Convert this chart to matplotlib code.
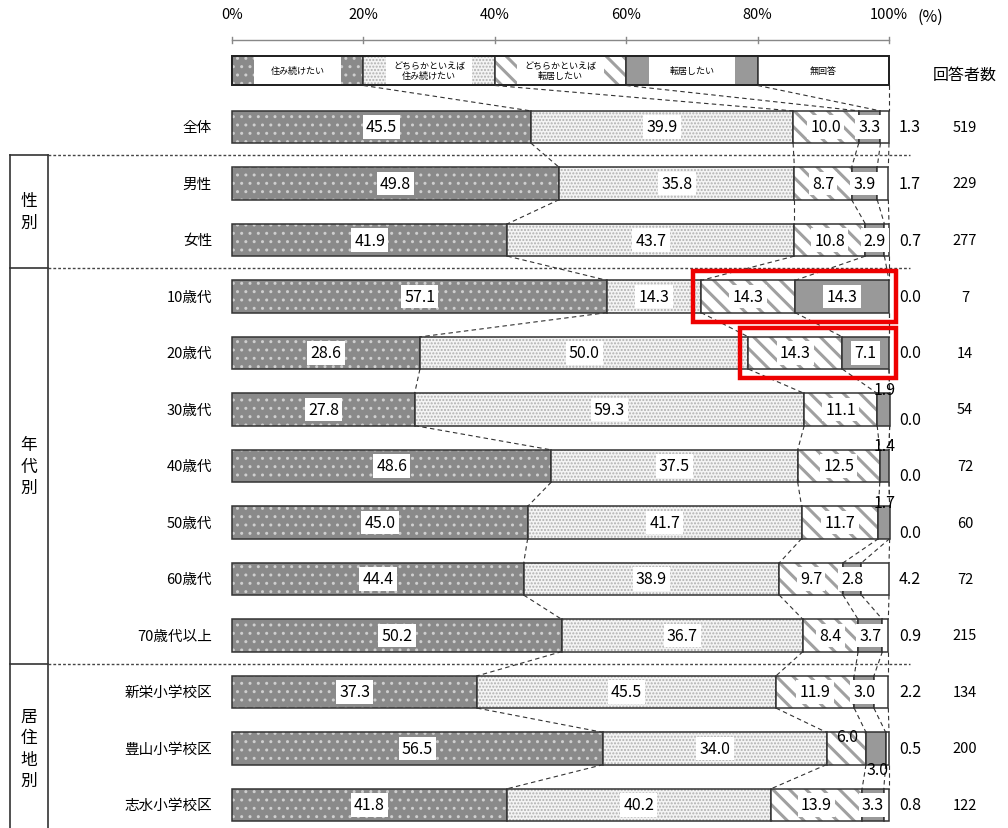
import numpy as np
import matplotlib.pyplot as plt

plt.rcParams['font.family'] = ['Noto Sans CJK JP', 'DejaVu Sans']

# データ
categories = ['全体', '男性', '女性', '10歳代', '20歳代', '30歳代', '40歳代', '50歳代',
              '60歳代', '70歳代以上', '新栄小学校区', '豊山小学校区', '志水小学校区']
stay = [45.5, 49.8, 41.9, 57.1, 28.6, 27.8, 48.6, 45.0, 44.4, 50.2, 37.3, 56.5, 41.8]
rather_stay = [39.9, 35.8, 43.7, 14.3, 50.0, 59.3, 37.5, 41.7, 38.9, 36.7, 45.5, 34.0, 40.2]
rather_move = [10.0, 8.7, 10.8, 14.3, 14.3, 11.1, 12.5, 11.7, 9.7, 8.4, 11.9, 6.0, 13.9]
move = [3.3, 3.9, 2.9, 14.3, 7.1, 1.9, 1.4, 1.7, 2.8, 3.7, 3.0, 3.0, 3.3]
no_answer = [1.3, 1.7, 0.7, 0.0, 0.0, 0.0, 0.0, 0.0, 4.2, 0.9, 2.2, 0.5, 0.8]
respondents = [519, 229, 277, 7, 14, 54, 72, 60, 72, 215, 134, 200, 122]

legend_labels = ['住み続けたい', 'どちらかといえば\n住み続けたい', 'どちらかといえば\n転居したい',
                 '転居したい', '無回答']
tick_values = [0, 20, 40, 60, 80, 100]
groups = [('性\n別', 1, 2), ('年\n代\n別', 3, 9), ('居\n住\n地\n別', 10, 12)]
highlight_rows = ['10歳代', '20歳代']

series = [stay, rather_stay, rather_move, move, no_answer]
values = np.array(series).T

# 見た目
styles = [
    dict(fc='#8a8a8a', hc='#cfcfcf', hatch='..'),
    dict(fc='#f4f4f4', hc='#b0b0b0', hatch='.....'),
    dict(fc='white', hc='#a0a0a0', hatch='\\\\'),
    dict(fc='#999999', hc=None, hatch=None),
    dict(fc='white', hc=None, hatch=None),
]
BAR_H = 0.57
LEG_H = 0.53
LEG_Y = -1.0

PX = 6.57          # 1% あたりのピクセル
X0 = 232           # 0% の位置
ROW_PX = 56.5
ROW0 = 128


def px_x(p):
    return (p - X0) / PX


def px_y(p):
    return (p - ROW0) / ROW_PX


fig = plt.figure(figsize=(10.08, 8.29), dpi=100)
ax = fig.add_axes([0, 0, 1, 1])
ax.set_xlim(px_x(0), px_x(1008))
ax.set_ylim(px_y(829), px_y(0))
ax.axis('off')


def draw_segments(y, vals, height):
    left = 0
    for v, st in zip(vals, styles):
        if v > 0:
            b = ax.barh(y, v, left=left, height=height, color=st['fc'],
                        edgecolor=st['hc'] if st['hc'] else st['fc'],
                        hatch=st['hatch'], linewidth=0)
            if st['hatch'] == '\\\\':
                for p in b:
                    if hasattr(p, 'set_hatch_linewidth'):
                        p.set_hatch_linewidth(2.2)
            ax.barh(y, v, left=left, height=height, fill=False,
                    edgecolor='#333333', linewidth=1.1)
        left += v


# 上の目盛り
ax.plot([0, 100], [px_y(41), px_y(41)], color='#888888', lw=1)
for t in tick_values:
    ax.plot([t, t], [px_y(38), px_y(44)], color='#888888', lw=1)
    ax.text(t, px_y(15), f'{t}%', ha='center', va='center', fontsize=10.5)
ax.text(px_x(930), px_y(17), '(%)', ha='center', va='center', fontsize=11.5)
ax.text(px_x(965), px_y(75), '回答者数', ha='center', va='center', fontsize=11.5)

# 凡例バー
leg_vals = [20] * 5
draw_segments(LEG_Y, leg_vals, LEG_H)
for k, lab in enumerate(legend_labels):
    cx = 20 * k + 10
    ax.barh(LEG_Y, 13.2, left=cx - 6.6, height=LEG_H - 0.04, color='white', linewidth=0)
    ax.text(cx, LEG_Y, lab, ha='center', va='center', fontsize=6.5, linespacing=1.2)
ax.barh(LEG_Y, 100, height=LEG_H, fill=False, edgecolor='#222222', linewidth=1.4)

# 本体
for i, cat in enumerate(categories):
    draw_segments(i, values[i], BAR_H)
    ax.text(px_x(212), i, cat, ha='right', va='center', fontsize=10.5)
    ax.text(px_x(965), i, str(respondents[i]), ha='center', va='center', fontsize=10.5)

    cum = np.concatenate([[0], np.cumsum(values[i])])
    box = dict(boxstyle='square,pad=0.2', fc='white', ec='none')
    for k in range(4):
        v = values[i][k]
        cx = (cum[k] + cum[k + 1]) / 2
        ty = i
        bb = box
        if k == 3 and v < 2.0:
            cx, ty, bb = 99.3, i - 0.36, None
        if cat == '豊山小学校区' and k == 2:
            cx, ty, bb = 93.6, i - 0.22, None
        if cat == '豊山小学校区' and k == 3:
            cx, ty, bb = 98.3, i + 0.38, None
        ax.text(cx, ty, f'{v:.1f}', ha='center', va='center', fontsize=11.5, bbox=bb,
                zorder=4)
    ty = i + 0.17 if values[i][3] < 2.0 else i
    ax.text(px_x(910), ty, f'{values[i][4]:.1f}', ha='center', va='center', fontsize=11.5)

# 行と行をつなぐ破線
prev_cum = np.cumsum(leg_vals)
prev_y = LEG_Y + LEG_H / 2
for i in range(len(categories)):
    cum = np.cumsum(values[i])
    for a, b in zip(prev_cum, cum):
        ax.plot([a, b], [prev_y, i - BAR_H / 2], color='#333333', lw=0.8,
                ls=(0, (4, 3)))
    prev_cum = cum
    prev_y = i + BAR_H / 2

# 赤枠
for cat in highlight_rows:
    i = categories.index(cat)
    start = sum(values[i][:2])
    ax.add_patch(plt.Rectangle((start - 1.3, i - 0.45), 101.0 - start + 1.3, 0.9,
                               fill=False, edgecolor='#ee0000', linewidth=3.2, zorder=5))

# 区切り線と分類枠
bottom = px_y(829)
ax.plot([px_x(10), px_x(10)], [0.5, bottom], color='#333333', lw=1.2)
ax.plot([px_x(48), px_x(48)], [0.5, bottom], color='#333333', lw=1.2)
for y in [0.5, 2.5, 9.5]:
    ax.plot([px_x(10), px_x(48)], [y, y], color='#333333', lw=1.2)
    ax.plot([px_x(48), px_x(910)], [y, y], color='#444444', lw=1.0, ls=(0, (2, 1.5)))
for lab, r0, r1 in groups:
    ax.text(px_x(29), (r0 + r1) / 2, lab, ha='center', va='center', fontsize=12,
            linespacing=1.35)

fig.savefig('out.png', dpi=100)
